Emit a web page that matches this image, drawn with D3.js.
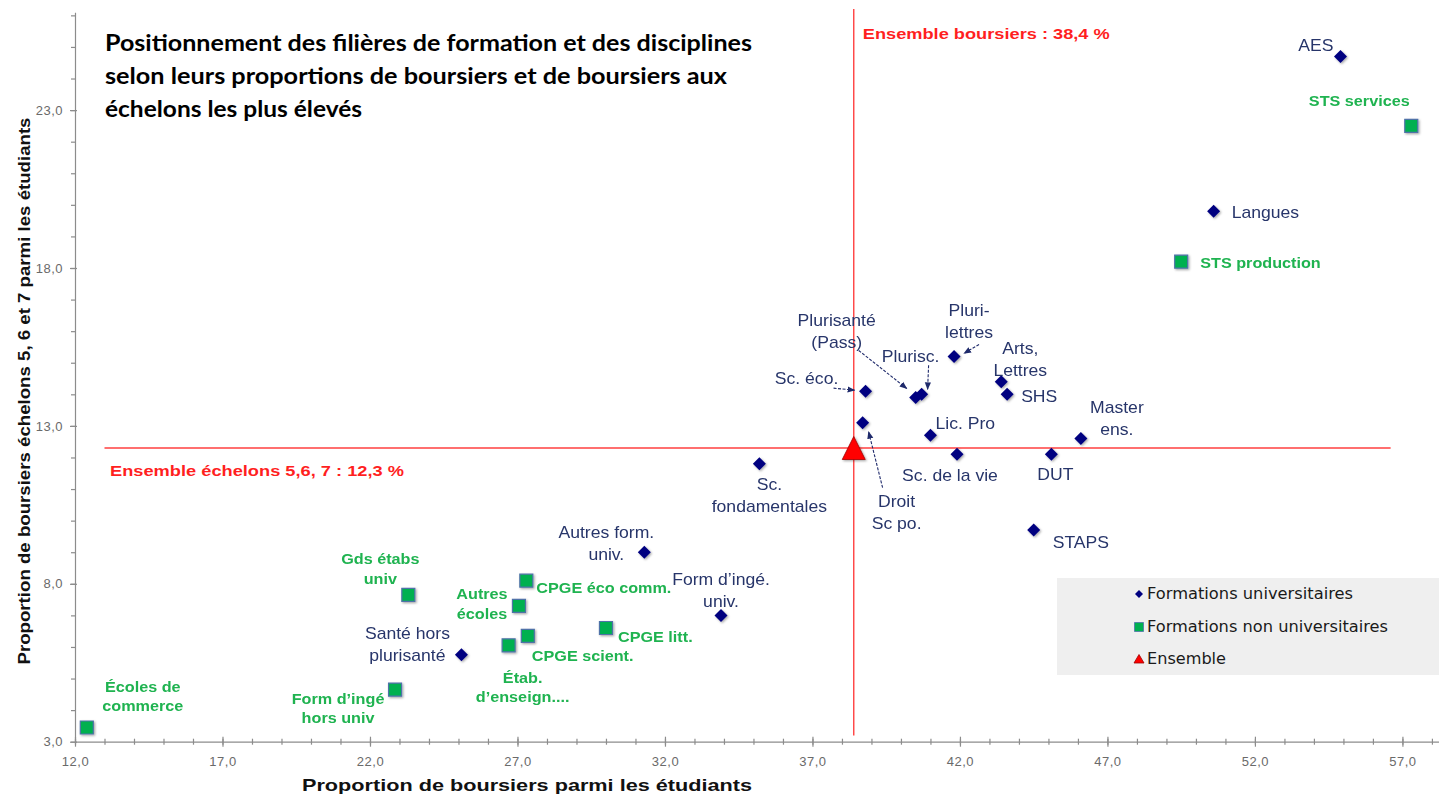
<!DOCTYPE html>
<html><head><meta charset="utf-8">
<script src="https://cdn.jsdelivr.net/npm/d3@7"></script>
<style>body{margin:0;background:#fff} svg{display:block}</style>
</head><body>
<svg id="c" width="1439" height="796"></svg>
<script>
// ---------- DATA ----------
const univNames = ["AES","Langues","Plurisanté\n(Pass)","Plurisc.","Pluri-\nlettres","Arts,\nLettres","SHS","Sc. éco.","Droit\nSc po.","Lic. Pro","Sc. de la vie","DUT","Master\nens.","STAPS","Sc.\nfondamentales","Autres form.\nuniv.","Form d’ingé.\nuniv.","Santé hors\nplurisanté"];
const univX = [54.9,50.6,40.5,40.7,41.8,43.4,43.6,38.8,38.7,41.0,41.9,45.1,46.1,44.5,35.2,31.3,33.9,25.1];
const univY = [24.7,19.8,13.9,14.0,15.2,14.4,14.0,14.1,13.1,12.7,12.1,12.1,12.6,9.7,11.8,9.0,7.0,5.75];

const nonUnivNames = ["STS services","STS production","Gds étabs\nuniv","Form d’ingé\nhors univ","Écoles de\ncommerce","CPGE éco comm.","Autres\nécoles","CPGE scient.","Étab.\nd’enseign....","CPGE litt."];
const nonUnivX = [57.3,49.5,23.3,22.85,12.4,27.3,27.05,27.35,26.7,30.0];
const nonUnivY = [22.5,18.2,7.65,4.65,3.45,8.1,7.3,6.35,6.05,6.6];

const ensembleX = [38.4];
const ensembleY = [12.3];

const refBoursiers = 38.4;   // vertical reference line
const refEchelons = 12.3;    // horizontal reference line
const refLabels = ["Ensemble boursiers : 38,4 %", "Ensemble échelons 5,6, 7 : 12,3 %"];

const xTickValues = [12,17,22,27,32,37,42,47,52,57];
const yTickValues = [3,8,13,18,23];

const legendLabels = ["Formations universitaires","Formations non universitaires","Ensemble"];
const titleLines = ["Positionnement des filières de formation et des disciplines",
                    "selon leurs proportions de boursiers et de boursiers aux",
                    "échelons les plus élevés"];
const xTitle = "Proportion de boursiers parmi les étudiants";
const yTitle = "Proportion de boursiers échelons 5, 6 et 7 parmi les étudiants";

// ---------- LAYOUT (label placement relative to marks) ----------
const labelLayout = {
  "AES":["end",-7,-11], "Langues":["start",18,1], "Plurisanté\n(Pass)":["middle",-79,-77],
  "Plurisc.":["middle",-11,-38], "Pluri-\nlettres":["middle",15,-46], "Arts,\nLettres":["middle",19,-33],
  "SHS":["start",14,2], "Sc. éco.":["middle",-59,-13], "Droit\nSc po.":["middle",34,79],
  "Lic. Pro":["start",5,-12], "Sc. de la vie":["middle",-7,21], "DUT":["middle",4,20],
  "Master\nens.":["middle",36,-31], "STAPS":["start",19,12], "Sc.\nfondamentales":["middle",10,21],
  "Autres form.\nuniv.":["middle",-38,-20], "Form d’ingé.\nuniv.":["middle",0,-36],
  "Santé hors\nplurisanté":["middle",-54,-21],
  "STS services":["middle",-52,-25], "STS production":["start",19,1], "Gds étabs\nuniv":["middle",-28,-36],
  "Form d’ingé\nhors univ":["middle",-57,9], "Écoles de\ncommerce":["middle",56,-41],
  "CPGE éco comm.":["start",10,7], "Autres\nécoles":["middle",-37,-12], "CPGE scient.":["start",4,20],
  "Étab.\nd’enseign....":["middle",14,32], "CPGE litt.":["start",12,9]
};
// arrows: [label, startDx, startDy, endDx, endDy] relative to the point
const arrows = [
  ["Sc. éco.",-32,-3,-11,-1],
  ["Plurisanté\n(Pass)",-57,-47,-9,-9],
  ["Plurisc.",7,-29,6,-5],
  ["Pluri-\nlettres",25,-12,10,-3],
  ["Droit\nSc po.",20,65,6,9]
];

const svg = d3.select("#c");
const x = d3.scaleLinear().domain([12, 58.24]).range([75, 1439]);
const y = d3.scaleLinear().domain([3, 26.1]).range([741.7, 12.2]);

const NAVY = "#000080", NAVY_TXT = "#27356a", GREEN = "#00b050", GREEN_TXT = "#1fb350", RED = "#ff1f1f";
const fmt = v => d3.format(".1f")(v).replace(".", ",");

// defs
const defs = svg.append("defs");
const sh = defs.append("filter").attr("id","sh").attr("x","-50%").attr("y","-50%").attr("width","200%").attr("height","200%");
sh.append("feDropShadow").attr("dx",1.2).attr("dy",1.2).attr("stdDeviation",1).attr("flood-color","#000").attr("flood-opacity",0.35);
defs.append("marker").attr("id","ah").attr("viewBox","0 0 10 10").attr("refX",9).attr("refY",5)
  .attr("markerWidth",7).attr("markerHeight",7).attr("orient","auto-start-reverse")
  .append("path").attr("d","M0,1L10,5L0,9Z").attr("fill","#1f2a6b");

// ---------- AXES ----------
const axisColor = "#8c8c8c";
const gx = svg.append("g").attr("transform",`translate(0,${y(3)})`);
gx.call(d3.axisBottom(x).tickValues(d3.range(12,59,1)).tickSize(3).tickSizeOuter(0).tickFormat(""));
gx.selectAll(".tick line").attr("y1",-3);
const gx2 = svg.append("g").attr("transform",`translate(0,${y(3)})`);
gx2.call(d3.axisBottom(x).tickValues(xTickValues).tickSize(5).tickSizeOuter(0).tickPadding(10).tickFormat(fmt));
gx2.selectAll(".tick line").attr("y1",-5);
gx2.select(".domain").remove();

const gy = svg.append("g").attr("transform",`translate(${x(12)},0)`);
gy.call(d3.axisLeft(y).tickValues(d3.range(3,27,1)).tickSize(4).tickSizeOuter(0).tickFormat(""));
const gy2 = svg.append("g").attr("transform",`translate(${x(12)},0)`);
gy2.call(d3.axisLeft(y).tickValues(yTickValues).tickSize(5).tickSizeOuter(0).tickPadding(7).tickFormat(fmt));
gy2.selectAll(".tick line").attr("x1",2);
gy2.select(".domain").remove();

svg.selectAll(".domain, .tick line").attr("stroke",axisColor).attr("stroke-width",1.2);
svg.selectAll(".tick text").attr("fill","#6a6a6a").attr("font-family","Liberation Sans, Arial, sans-serif")
  .attr("font-size",13).attr("letter-spacing",0.5);

// axis titles
svg.append("text").attr("x",527).attr("y",791).attr("text-anchor","middle")
  .attr("font-family","Liberation Sans, Arial, sans-serif").attr("font-weight","bold").attr("font-size",17)
  .attr("fill","#111").attr("textLength",450).attr("lengthAdjust","spacingAndGlyphs").text(xTitle);
svg.append("text").attr("transform","translate(30,391) rotate(-90)").attr("text-anchor","middle")
  .attr("font-family","Liberation Sans, Arial, sans-serif").attr("font-weight","bold").attr("font-size",16)
  .attr("fill","#111").attr("textLength",547).attr("lengthAdjust","spacingAndGlyphs").text(yTitle);

// ---------- TITLE ----------
const titleWidths = [647, 622, 257];
svg.append("g").selectAll("text").data(titleLines).join("text")
  .attr("x",105).attr("y",(d,i)=>51 + i*33)
  .attr("font-family","Lato, sans-serif").attr("font-weight","bold").attr("font-size",22.5)
  .attr("textLength",(d,i)=>titleWidths[i]).attr("lengthAdjust","spacingAndGlyphs")
  .attr("fill","#000").text(d=>d);

// ---------- REFERENCE LINES ----------
svg.append("line").attr("x1",x(refBoursiers)).attr("x2",x(refBoursiers)).attr("y1",y(26.2)).attr("y2",y(3.2))
  .attr("stroke",RED).attr("stroke-width",1.4).attr("opacity",0.85);
svg.append("line").attr("x1",x(13.0)).attr("x2",x(56.6)).attr("y1",y(refEchelons)).attr("y2",y(refEchelons))
  .attr("stroke",RED).attr("stroke-width",1.4).attr("opacity",0.85);
svg.append("text").attr("x",x(refBoursiers)+9).attr("y",38.5)
  .attr("font-family","Liberation Sans, Arial, sans-serif").attr("font-weight","bold").attr("font-size",15.5)
  .attr("fill",RED).attr("textLength",247).attr("lengthAdjust","spacingAndGlyphs").text(refLabels[0]);
svg.append("text").attr("x",110).attr("y",y(refEchelons)+28)
  .attr("font-family","Liberation Sans, Arial, sans-serif").attr("font-weight","bold").attr("font-size",15.5)
  .attr("fill",RED).attr("textLength",294).attr("lengthAdjust","spacingAndGlyphs").text(refLabels[1]);

// ---------- DATA MARKS ----------
const univ = univNames.map((n,i)=>({name:n, x:univX[i], y:univY[i]}));
const nonUniv = nonUnivNames.map((n,i)=>({name:n, x:nonUnivX[i], y:nonUnivY[i]}));
const ens = ensembleX.map((v,i)=>({x:v, y:ensembleY[i]}));

// arrows
const allPts = new Map([...univ, ...nonUniv].map(d=>[d.name,d]));
svg.append("g").selectAll("line").data(arrows).join("line")
  .attr("x1",a=>x(allPts.get(a[0]).x)+a[1]).attr("y1",a=>y(allPts.get(a[0]).y)+a[2])
  .attr("x2",a=>x(allPts.get(a[0]).x)+a[3]).attr("y2",a=>y(allPts.get(a[0]).y)+a[4])
  .attr("stroke","#1f2a6b").attr("stroke-width",1.1).attr("stroke-dasharray","3,1.5")
  .attr("marker-end","url(#ah)");

svg.append("g").attr("filter","url(#sh)").selectAll("path").data(nonUniv).join("path")
  .attr("d","M-6.5,-6.5H6.5V6.5H-6.5Z").attr("transform",d=>`translate(${x(d.x)},${y(d.y)})`)
  .attr("fill",GREEN).attr("stroke","#4f72a8").attr("stroke-width",1.2);
svg.append("g").attr("filter","url(#sh)").selectAll("path").data(univ).join("path")
  .attr("d","M0,-6.5L6.5,0L0,6.5L-6.5,0Z").attr("transform",d=>`translate(${x(d.x)},${y(d.y)})`)
  .attr("fill",NAVY);
svg.append("g").attr("filter","url(#sh)").selectAll("path").data(ens).join("path")
  .attr("d","M0,-11.5L11.5,11.5L-11.5,11.5Z").attr("transform",d=>`translate(${x(d.x)},${y(d.y)})`)
  .attr("fill","#ff0000").attr("stroke","#a00000").attr("stroke-width",0.8);

// labels
function drawLabels(data, opts){
  const g = svg.append("g");
  data.forEach(d=>{
    const L = labelLayout[d.name]; if(!L) return;
    const px = x(d.x), py = y(d.y);
    d.name.split("\n").forEach((line,i)=>{
      g.append("text")
        .attr("transform",`translate(${px+L[1]},${py+L[2]+i*opts.lh}) scale(${opts.sx},1)`)
        .attr("text-anchor",L[0]).attr("dy","0.35em")
        .attr("font-family","Liberation Sans, Arial, sans-serif")
        .attr("font-weight",opts.weight).attr("font-size",opts.size).attr("fill",opts.fill).text(line);
    });
  });
}
drawLabels(univ, {lh:22, sx:1.1, size:16, weight:"normal", fill:NAVY_TXT});
drawLabels(nonUniv, {lh:19.5, sx:1.08, size:15, weight:"bold", fill:GREEN_TXT});

// ---------- LEGEND ----------
const lg = svg.append("g");
lg.append("rect").attr("x",1057).attr("y",578).attr("width",382).attr("height",97).attr("fill","#efefef");
const legY = [594, 627, 659];
const legW = [206, 241, 79];
const legShapes = ["M0,-4L4,0L0,4L-4,0Z","M-4.5,-4.5H4.5V4.5H-4.5Z","M0,-4.5L5,4L-5,4Z"];
const legFill = [NAVY, GREEN, "#ff0000"];
legendLabels.forEach((t,i)=>{
  lg.append("path").attr("d",legShapes[i]).attr("transform",`translate(1139,${legY[i]})`)
    .attr("fill",legFill[i]).attr("stroke", i===1?"#4f72a8":(i===2?"#a00000":"none")).attr("stroke-width",0.8);
  lg.append("text").attr("x",1147).attr("y",legY[i]).attr("dy","0.36em")
    .attr("font-family","DejaVu Sans, sans-serif").attr("font-size",15).attr("fill","#1a1a1a")
    .attr("textLength",legW[i]).attr("lengthAdjust","spacingAndGlyphs").text(t);
});
</script>
</body></html>
